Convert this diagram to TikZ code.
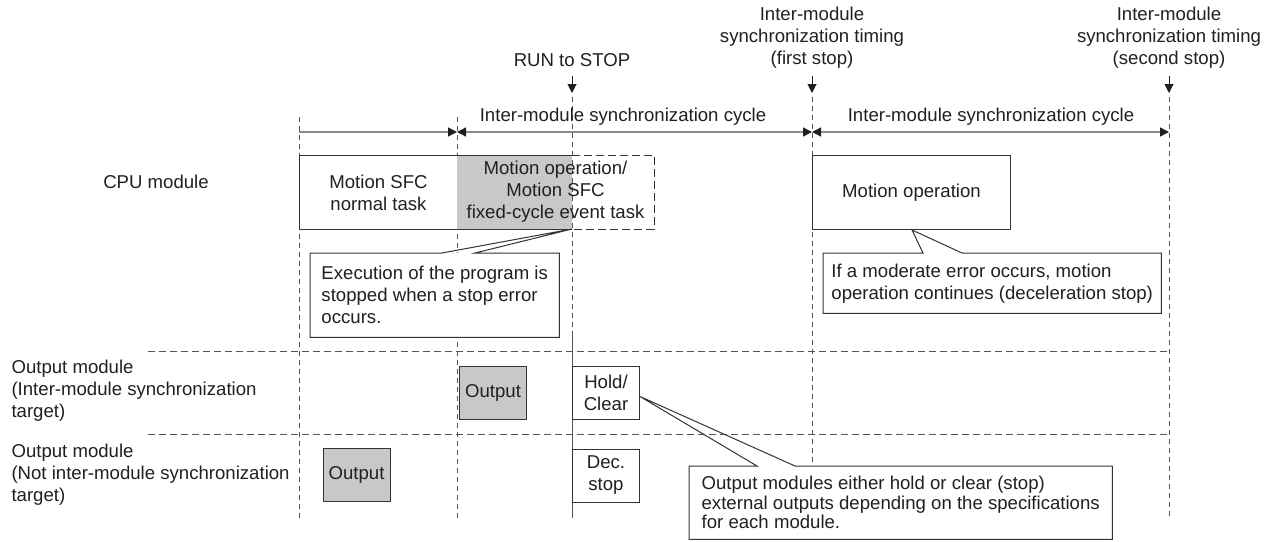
\documentclass[tikz,border=0pt]{standalone}
\usepackage{fontspec}
\setmainfont{Liberation Sans}
\usepackage{xcolor}
\usetikzlibrary{calc}
\usetikzlibrary{positioning}
\usetikzlibrary{arrows.meta}

\definecolor{txt}{HTML}{231F20}
\definecolor{boxline}{HTML}{333333}
\definecolor{tint}{HTML}{C8C8C8}
\definecolor{gridcol}{HTML}{555555}
\definecolor{cycline}{HTML}{8A8A8A}

\begin{document}
\begin{tikzpicture}[x=1pt, y=-1pt, >={Triangle[length=9pt,width=9pt,color=txt]}, font=\fontsize{18.6}{22}\selectfont, text=txt]
	\tikzstyle{box}=[draw=boxline, line width=1pt, fill=white, inner sep=0pt, align=center]
	\tikzstyle{outbox}=[box, minimum width=67pt, minimum height=53pt]
	\tikzstyle{note}=[anchor=north west, fill=white, inner sep=0pt, align=left]
	\tikzstyle{vgrid}=[draw=gridcol, line width=0.8pt, dash pattern=on 5pt off 4pt]
	\tikzstyle{hgrid}=[draw=gridcol, line width=0.8pt, dash pattern=on 7pt off 4pt]
	\tikzstyle{cycarrow}=[draw=cycline, line width=1.3pt]
	\tikzstyle{drop}=[draw=txt, line width=1pt, ->]
	\tikzstyle{outline}=[draw=boxline, line width=1pt]

	\useasboundingbox (0,0) rectangle (1269,541);

	% grid
	\foreach \x/\top in {299/117, 457/117, 812/97, 1169/97}
		\draw[vgrid] (\x,\top) -- (\x,518);
	\draw[vgrid] (572,97) -- (572,335);
	\draw[draw=gridcol, line width=0.8pt] (572,335) -- (572,518);
	\foreach \y in {351, 434}
		\draw[hgrid] (148,\y) -- (1169,\y);

	% timing marks
	\coordinate (t0) at (299,132);
	\coordinate (t1) at (457,132);
	\coordinate (t2) at (812,132);
	\coordinate (t3) at (1169,132);
	\draw[cycarrow, ->] (t0) -- (t1);
	\draw[cycarrow, <->] (t1) -- (t2);
	\draw[cycarrow, <->] (t2) -- (t3);
	\node (cyc1) at (623,117) {Inter-module synchronization cycle};
	\node (cyc2) at (991,117) {Inter-module synchronization cycle};

	\node (runstop) at (572,60) {RUN to STOP};
	\node[align=center] (firststop) at (812,38) {Inter-module\\synchronization timing\\(first stop)};
	\node[align=center] (secondstop) at (1169,38) {Inter-module\\synchronization timing\\(second stop)};
	\coordinate (r0) at (572,76);  \coordinate (r1) at (572,93);
	\coordinate (f0) at (812,76);  \coordinate (f1) at (812,93);
	\coordinate (s0) at (1169,76); \coordinate (s1) at (1169,93);
	\draw[drop] (r0) -- (r1);
	\draw[drop] (f0) -- (f1);
	\draw[drop] (s0) -- (s1);

	% CPU module
	\node (cpu) at (156,182) {CPU module};
	\node[box, anchor=north west, minimum width=158pt, minimum height=74pt] (sfc) at (299,155) {Motion SFC\\normal task};
	\fill[tint] (457,155) rectangle (572,229);
	\draw[outline] (457,155) -- (572,155) (457,229) -- (572,229);
	\draw[outline, dash pattern=on 8pt off 4pt] (572,155) -- (654,155) -- (654,229) -- (572,229);
	\node[align=center] (fixcyc) at (555.5,192) {Motion operation/\\Motion SFC\\fixed-cycle event task};
	\coordinate (stoptip) at (572,229);
	\node[box, anchor=north west, minimum width=198pt, minimum height=74pt] (motop) at (812,155) {Motion operation};

	\node[note, minimum width=249pt, minimum height=84pt] (errnote) at (310,253) {Execution of the program is\\stopped when a stop error\\occurs.};
	\draw[outline] (errnote.north west) -- ($(errnote.north west)+(132,0)$) -- (stoptip) -- ($(errnote.north west)+(165,0)$) -- (errnote.north east) -- (errnote.south east) -- (errnote.south west) -- cycle;

	\node[note, minimum width=338pt, minimum height=60pt] (modnote) at (823,253) {If a moderate error occurs, motion\\operation continues (deceleration stop)};
	\draw[outline] (modnote.north west) -- ($(modnote.north west)+(100,0)$) -- ($(motop.south west)+(100,0)$) -- ($(modnote.north west)+(139,0)$) -- (modnote.north east) -- (modnote.south east) -- (modnote.south west) -- cycle;

	% output modules
	\node[anchor=west, align=left] (syncrow) at (8,391) {Output module\\(Inter-module synchronization\\target)};
	\node[anchor=west, align=left] (nosyncrow) at (8,475) {Output module\\(Not inter-module synchronization\\target)};
	\node[outbox, fill=tint] (out1) at (493,392.5) {Output};
	\node[outbox] (hold) at (606,392.5) {Hold/\\Clear};
	\node[outbox, fill=tint] (out2) at (356.5,475) {Output};
	\node[outbox] (dec) at (606,475.5) {Dec.\\stop};

	\node[note, minimum width=423pt, minimum height=73pt, font=\fontsize{18.6}{19.5}\selectfont] (holdnote) at (689,466) {Output modules either hold or clear (stop)\\external outputs depending on the specifications\\for each module.};
	\draw[outline] (holdnote.north west) -- ($(holdnote.north west)+(68,0)$) -- ($(hold.east)+(0,4)$) -- ($(holdnote.north west)+(106,0)$) -- (holdnote.north east) -- (holdnote.south east) -- (holdnote.south west) -- cycle;
\end{tikzpicture}
\end{document}
